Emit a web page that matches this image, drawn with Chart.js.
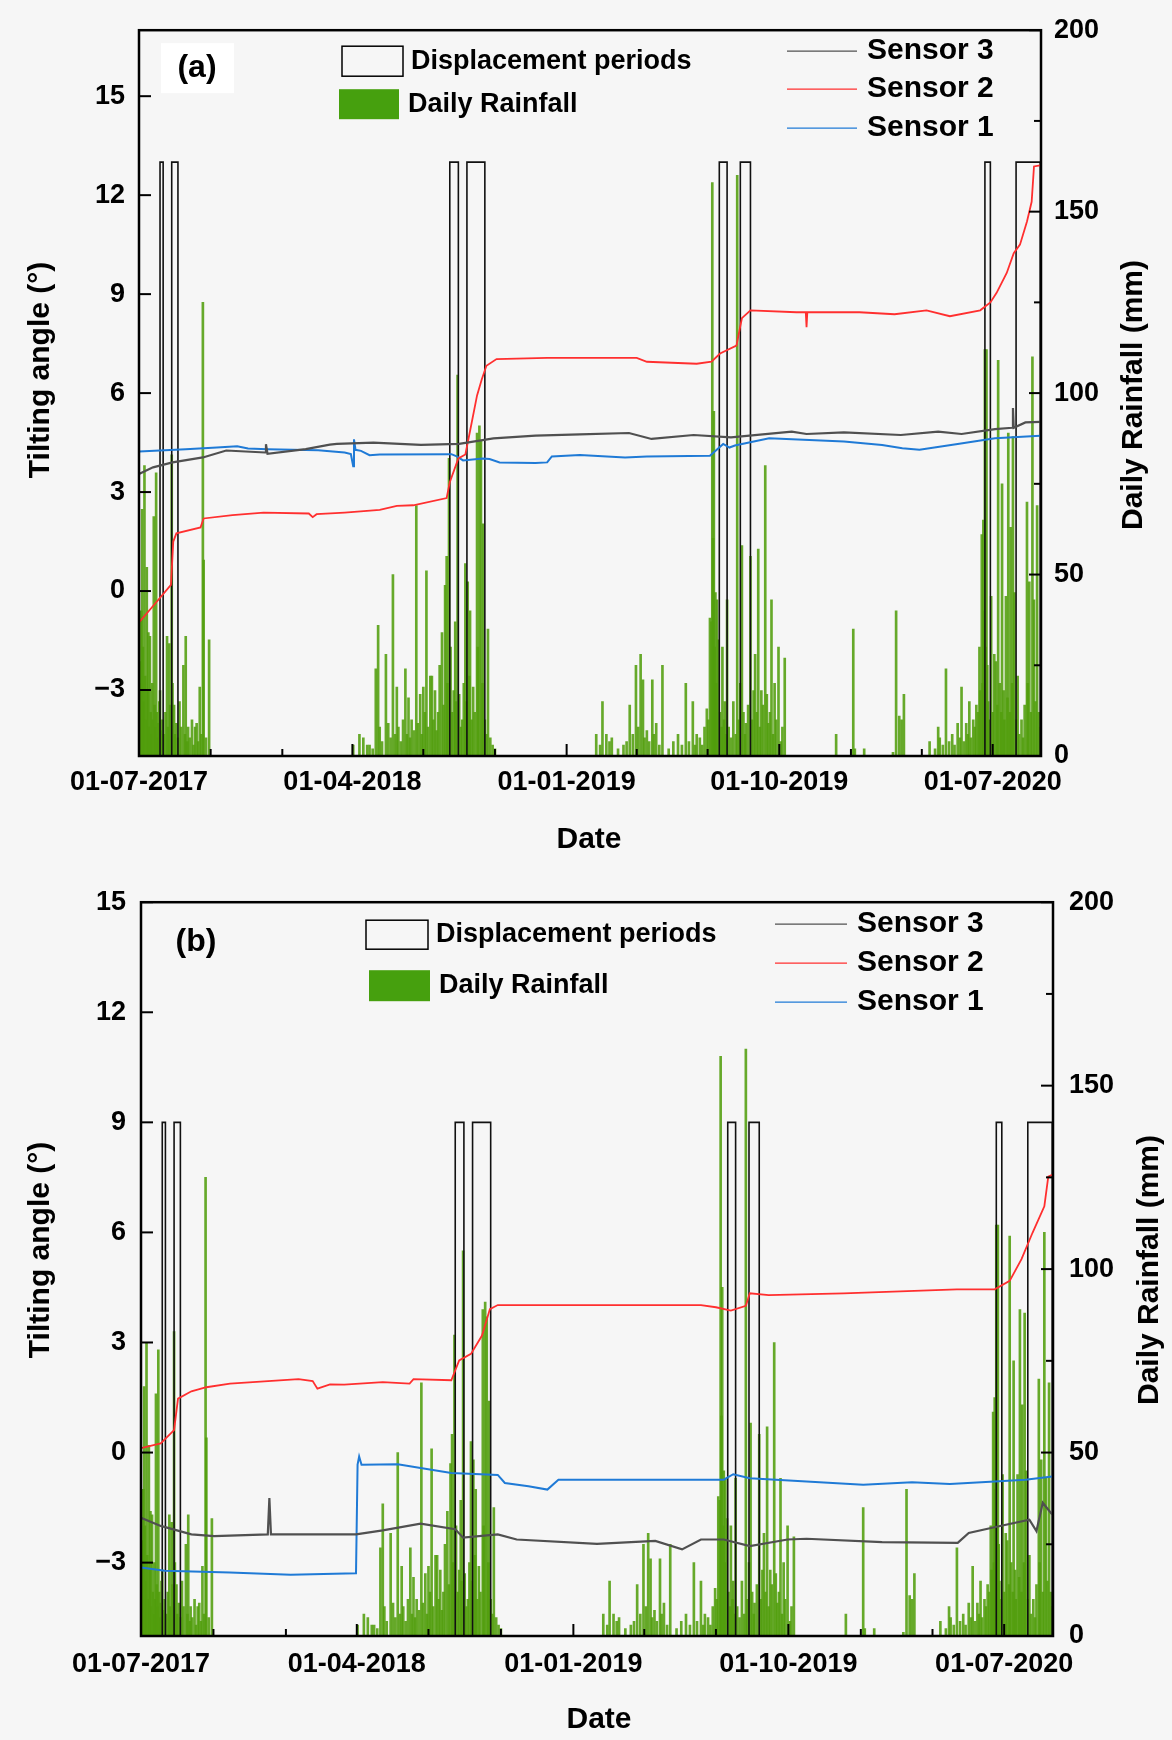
<!DOCTYPE html>
<html>
<head>
<meta charset="utf-8">
<title>Tilting angle and daily rainfall</title>
<script src="https://cdn.jsdelivr.net/npm/chart.js@4.4.1/dist/chart.umd.min.js"></script>
<style>
    html, body { margin: 0; padding: 0; background: #f6f6f6; }
    #wrap { position: relative; width: 1172px; height: 1740px; }
    canvas { position: absolute; left: 0; }
    #chartA { top: 0; }
    #chartB { top: 870px; }
</style>
</head>
<body>
<div id="wrap">
    <canvas id="chartA" width="1172" height="870"></canvas>
    <canvas id="chartB" width="1172" height="870"></canvas>
</div>
<script>
// x values are days counted from 01-07-2017
const xMajorDays = [0, 274, 549, 822, 1096];
const xMajorLabels = ['01-07-2017', '01-04-2018', '01-01-2019', '01-10-2019', '01-07-2020'];
const xMinorDays = [92, 184, 365, 457, 639, 730, 914, 1005];
const tiltTicks = [-3, 0, 3, 6, 9, 12, 15];
const rainTicks = [0, 50, 100, 150, 200];
const rainMinorTicks = [25, 75, 125, 175];

// displacement periods (start / end day)
const periodStart = [27, 42, 399, 421, 745, 772, 1086, 1126];
const periodEnd = [31, 50, 410, 444, 755, 785, 1093, 1157];

// daily rainfall (mm), same record in both panels
const rainDays = [
    0, 1, 2, 3, 4, 5, 6, 7, 8, 9, 10, 11, 12, 13, 14, 15, 16, 17, 18, 19, 20, 21, 22, 23, 24, 25, 26, 27, 28, 30,
    32, 34, 36, 37, 39, 40, 42, 43, 45, 46, 48, 50, 52, 54, 57, 59, 60, 62, 63, 65, 68, 70, 72, 74, 76, 78, 80, 82, 83, 86, 90,
    275, 283, 288, 293, 296, 300, 304, 307, 309, 312, 317, 320, 323, 326, 329, 331, 333, 336, 339, 342, 344, 346, 348, 350,
    353, 356, 358, 361, 363, 365, 367, 369, 371, 374, 376, 378, 380, 382, 384, 386, 389, 391, 393, 395, 396, 398, 400, 402,
    404, 406, 407, 409, 411, 413, 415, 417, 419, 420, 422, 424, 425, 427, 429, 431, 434, 435, 437, 439, 441, 442, 444, 446,
    448, 451, 454, 457,
    587, 592, 595, 600, 604, 607, 615, 622, 626, 630, 634, 638, 641, 644, 647, 649, 652, 655, 659, 661, 664, 668, 672, 680,
    686, 692, 697, 702, 706, 711, 714, 716, 720, 723, 726, 729, 731, 733, 735, 736, 737, 738, 739, 740, 741, 742, 744, 746,
    748, 749, 751, 752, 754, 755, 757, 760, 763, 766, 768, 770, 772, 774, 776, 778, 779, 782, 785, 787, 789, 791, 793, 795,
    797, 799, 801, 804, 806, 808, 810, 812, 814, 816, 818, 821, 824, 826, 829,
    895, 917, 919, 931, 968, 972, 976, 979, 982, 1015, 1022, 1026, 1028, 1032, 1036, 1040, 1044, 1047, 1051, 1054, 1056,
    1059, 1062, 1064, 1066, 1068, 1071, 1073, 1075, 1077, 1079, 1080, 1082, 1083, 1084, 1085, 1086, 1087, 1088, 1089, 1090,
    1092, 1094, 1096, 1098, 1100, 1102, 1103, 1105, 1107, 1108, 1110, 1111, 1113, 1115, 1116, 1118, 1119, 1121, 1122, 1124,
    1126, 1128, 1130, 1133, 1135, 1137, 1140, 1141, 1143, 1145, 1147, 1149, 1151, 1153, 1155, 1157
];
const rainMm = [
    12, 20, 26, 40, 68, 30, 15, 80, 22, 10, 52, 18, 34, 8, 33, 12, 6, 20, 10, 66, 14, 8, 78, 12, 5, 9, 15, 18, 7, 10,
    6, 12, 33, 8, 31, 14, 83, 20, 14, 6, 9, 5, 15, 8, 25, 6, 33, 4, 8, 5, 10, 3, 8, 9, 4, 19, 6, 125, 54, 5, 32,
    3, 6, 5, 3, 3, 2, 24, 36, 8, 4, 28, 9, 5, 50, 6, 19, 8, 4, 10, 24, 6, 16, 5, 10,
    7, 69, 9, 17, 6, 19, 12, 51, 8, 22, 22, 10, 18, 7, 12, 25, 34, 14, 47, 55, 20, 82, 30, 12,
    18, 37, 15, 105, 17, 8, 10, 20, 53, 15, 48, 22, 40, 10, 19, 12, 89, 30, 91, 87, 20, 64, 10, 6,
    35, 5, 3, 2,
    6, 3, 15, 6, 4, 5, 2, 3, 4, 14, 6, 25, 8, 28, 21, 5, 7, 4, 21, 6, 9, 3, 25, 2,
    4, 6, 3, 20, 4, 15, 3, 6, 5, 3, 8, 13, 10, 38, 37, 158, 60, 95, 30, 45, 20, 43, 32, 12,
    8, 30, 10, 15, 6, 43, 8, 5, 15, 6, 160, 10, 20, 58, 12, 6, 9, 14, 55, 10, 18, 28, 12, 57,
    8, 18, 14, 80, 17, 9, 12, 43, 6, 20, 10, 30, 4, 8, 27,
    6, 35, 2, 2, 1, 40, 11, 10, 17, 4, 2, 8, 5, 3, 24, 4, 6, 3, 9, 5, 19,
    4, 9, 6, 15, 5, 10, 8, 14, 12, 30, 18, 61, 20, 65, 40, 112, 30, 112, 25, 15,
    10, 44, 12, 28, 26, 14, 109, 20, 12, 75, 18, 10, 44, 16, 89, 12, 63, 20, 88, 45,
    10, 22, 6, 10, 5, 14, 70, 20, 48, 12, 110, 43, 15, 69, 12, 8
];

// panel (a) tilting angle (deg)
const s3aDays = [0, 18, 43, 82, 112, 162, 163, 165, 214, 245, 254, 301, 362, 411, 455, 509, 566, 629, 658, 712, 760, 838, 857, 905, 978, 1026, 1056, 1099, 1121, 1122, 1123, 1138, 1157];
const s3aVals = [3.55, 3.75, 3.9, 4.05, 4.26, 4.2, 4.45, 4.16, 4.3, 4.44, 4.46, 4.5, 4.43, 4.46, 4.63, 4.71, 4.75, 4.79, 4.61, 4.73, 4.66, 4.83, 4.76, 4.81, 4.73, 4.83, 4.76, 4.91, 4.95, 5.55, 4.95, 5.11, 5.13];
const s2aDays = [0, 20, 41, 44, 48, 79, 83, 120, 160, 218, 223, 228, 264, 309, 331, 352, 395, 399, 410, 419, 425, 434, 440, 446, 459, 524, 639, 652, 716, 735, 746, 767, 774, 785, 844, 856, 857, 858, 925, 970, 1011, 1041, 1080, 1093, 1101, 1114, 1123, 1131, 1140, 1146, 1149, 1157];
const s2aVals = [-0.95, -0.4, 0.19, 1.5, 1.75, 1.93, 2.2, 2.3, 2.38, 2.35, 2.24, 2.33, 2.38, 2.46, 2.58, 2.6, 2.82, 3.3, 4.02, 4.14, 4.85, 5.93, 6.41, 6.83, 7.03, 7.07, 7.07, 6.95, 6.89, 6.95, 7.2, 7.44, 8.27, 8.51, 8.45, 8.45, 8.0, 8.45, 8.45, 8.39, 8.51, 8.33, 8.51, 8.75, 9.04, 9.64, 10.24, 10.5, 11.2, 11.8, 12.87, 12.9];
const s1aDays = [0, 60, 100, 126, 140, 165, 230, 264, 272, 275, 276, 278, 285, 296, 309, 401, 408, 416, 441, 450, 463, 509, 524, 530, 566, 624, 652, 733, 750, 758, 765, 809, 905, 954, 980, 1002, 1051, 1099, 1157];
const s1aVals = [4.23, 4.3, 4.35, 4.39, 4.32, 4.3, 4.27, 4.2, 4.15, 3.78, 4.6, 4.28, 4.25, 4.12, 4.14, 4.15, 4.08, 3.96, 4.02, 4.0, 3.9, 3.88, 3.9, 4.08, 4.12, 4.05, 4.08, 4.1, 4.46, 4.35, 4.41, 4.63, 4.53, 4.43, 4.33, 4.28, 4.46, 4.63, 4.71];

// panel (b) tilting angle (deg)
const s3bDays = [0, 25, 64, 93, 161, 163, 165, 210, 273, 307, 355, 399, 409, 453, 477, 579, 653, 687, 711, 740, 773, 821, 845, 941, 1037, 1051, 1085, 1128, 1137, 1145, 1157];
const s3bVals = [-1.78, -2.0, -2.23, -2.28, -2.23, -1.24, -2.23, -2.23, -2.23, -2.12, -1.94, -2.09, -2.32, -2.23, -2.37, -2.49, -2.41, -2.64, -2.37, -2.37, -2.55, -2.37, -2.35, -2.44, -2.46, -2.19, -2.03, -1.83, -2.14, -1.37, -1.69];
const s2bDays = [0, 25, 42, 47, 64, 83, 113, 200, 218, 224, 240, 258, 307, 341, 346, 394, 404, 419, 433, 443, 453, 557, 711, 730, 749, 768, 773, 797, 892, 1036, 1084, 1103, 1118, 1132, 1147, 1152, 1157];
const s2bVals = [0.12, 0.25, 0.61, 1.47, 1.67, 1.78, 1.88, 2.0, 1.95, 1.74, 1.86, 1.85, 1.92, 1.88, 2.0, 1.97, 2.51, 2.69, 3.19, 3.91, 4.02, 4.02, 4.02, 3.96, 3.87, 4.0, 4.34, 4.29, 4.34, 4.45, 4.45, 4.68, 5.27, 5.99, 6.71, 7.52, 7.57];
const s1bDays = [0, 30, 113, 190, 273, 275, 277, 280, 326, 355, 394, 453, 462, 492, 516, 530, 579, 639, 740, 752, 773, 845, 917, 979, 1027, 1084, 1123, 1157];
const s1bVals = [-3.13, -3.22, -3.27, -3.33, -3.29, -0.33, -0.11, -0.33, -0.32, -0.42, -0.56, -0.61, -0.83, -0.92, -1.01, -0.74, -0.74, -0.74, -0.74, -0.59, -0.7, -0.79, -0.88, -0.81, -0.86, -0.79, -0.74, -0.65];

const FONT = '"Liberation Sans", Arial, sans-serif';
const GRAY = '#505050';
const RED = '#ff2f2f';
const BLUE = '#1f7ad6';
const GREEN = '#46a00e';

function points(days, vals) {
    return days.map((d, i) => ({ x: d, y: vals[i] }));
}

// outline of each displacement period as one broken line
function periodBoxes(top, bottom) {
    const out = [];
    periodStart.forEach((s, i) => {
        const e = periodEnd[i];
        out.push({ x: s, y: bottom }, { x: s, y: top }, { x: e, y: top }, { x: e, y: bottom }, { x: e, y: null });
    });
    return out;
}

// frame, inward ticks, axis titles and legend
const decor = {
    id: 'decor',
    afterDraw(chart, args, o) {
        const { ctx, chartArea: a, scales } = chart;
        const seg = (x1, y1, x2, y2) => {
            ctx.beginPath();
            ctx.moveTo(x1, y1);
            ctx.lineTo(x2, y2);
            ctx.stroke();
        };
        ctx.save();
        ctx.strokeStyle = '#000';
        ctx.lineWidth = 2;
        tiltTicks.forEach(v => { const p = scales.y.getPixelForValue(v); seg(a.left, p, a.left + 12, p); });
        rainTicks.forEach(v => { const p = scales.y2.getPixelForValue(v); seg(a.right, p, a.right - 12, p); });
        rainMinorTicks.forEach(v => { const p = scales.y2.getPixelForValue(v); seg(a.right, p, a.right - 7, p); });
        xMajorDays.forEach(v => { const p = scales.x.getPixelForValue(v); seg(p, a.bottom, p, a.bottom - 12); });
        xMinorDays.forEach(v => { const p = scales.x.getPixelForValue(v); seg(p, a.bottom, p, a.bottom - 7); });
        ctx.lineWidth = 2.5;
        ctx.strokeRect(a.left, a.top, a.right - a.left, a.bottom - a.top);

        // axis titles
        ctx.fillStyle = '#000';
        ctx.textAlign = 'center';
        ctx.textBaseline = 'middle';
        ctx.font = 'bold 30px ' + FONT;
        ctx.fillText('Date', o.dateX, o.dateY);
        [[o.tiltX, o.tiltY, 'Tilting angle (°)'], [o.rainX, o.rainY, 'Daily Rainfall (mm)']].forEach(([x, y, t]) => {
            ctx.save();
            ctx.translate(x, y);
            ctx.rotate(-Math.PI / 2);
            ctx.fillText(t, 0, 0);
            ctx.restore();
        });

        // panel label
        const L = a.left, T = a.top;
        if (o.labelBox) {
            ctx.fillStyle = '#ffffff';
            ctx.fillRect(L + o.labelBox[0], T + o.labelBox[1], o.labelBox[2], o.labelBox[3]);
        }
        ctx.fillStyle = '#000';
        ctx.font = 'bold 32px ' + FONT;
        ctx.fillText(o.label, L + o.labelX, T + o.labelY);

        // legend
        ctx.textAlign = 'left';
        ctx.font = 'bold 27px ' + FONT;
        ctx.lineWidth = 1.5;
        ctx.strokeRect(L + o.dispBox[0], T + o.dispBox[1], o.dispBox[2], o.dispBox[3]);
        ctx.fillText('Displacement periods', L + o.dispText[0], T + o.dispText[1]);
        ctx.fillStyle = GREEN;
        ctx.fillRect(L + o.rainBox[0], T + o.rainBox[1], o.rainBox[2], o.rainBox[3]);
        ctx.fillStyle = '#000';
        ctx.fillText('Daily Rainfall', L + o.rainText[0], T + o.rainText[1]);

        ctx.font = 'bold 30px ' + FONT;
        [['Sensor 3', GRAY], ['Sensor 2', RED], ['Sensor 1', BLUE]].forEach(([name, col], i) => {
            const y = T + o.sensorY[i];
            ctx.strokeStyle = col;
            ctx.lineWidth = 1.2;
            seg(L + o.sensorLine[0], y, L + o.sensorLine[1], y);
            ctx.fillStyle = '#000';
            ctx.fillText(name, L + o.sensorText, y);
        });
        ctx.restore();
    }
};

function makeChart(id, cfg) {
    const tickFont = { family: FONT, size: 27, weight: 'bold' };
    return new Chart(document.getElementById(id), {
        type: 'line',
        data: {
            datasets: [
                {
                    type: 'bar',
                    label: 'Daily Rainfall',
                    data: points(rainDays, rainMm),
                    yAxisID: 'y2',
                    backgroundColor: 'rgba(82,158,14,0.88)',
                    barThickness: 2,
                    order: 5,
                },
                {
                    label: 'Displacement periods',
                    data: periodBoxes(cfg.boxTop, cfg.tiltMin),
                    yAxisID: 'y',
                    borderColor: '#111',
                    borderWidth: 1.6,
                    pointRadius: 0,
                    spanGaps: false,
                    order: 4,
                },
                {
                    label: 'Sensor 1',
                    data: points(cfg.s1Days, cfg.s1Vals),
                    yAxisID: 'y',
                    borderColor: BLUE,
                    borderWidth: 2,
                    pointRadius: 0,
                    order: 3,
                },
                {
                    label: 'Sensor 2',
                    data: points(cfg.s2Days, cfg.s2Vals),
                    yAxisID: 'y',
                    borderColor: RED,
                    borderWidth: 1.8,
                    pointRadius: 0,
                    order: 2,
                },
                {
                    label: 'Sensor 3',
                    data: points(cfg.s3Days, cfg.s3Vals),
                    yAxisID: 'y',
                    borderColor: GRAY,
                    borderWidth: 2.2,
                    pointRadius: 0,
                    order: 1,
                },
            ],
        },
        options: {
            responsive: false,
            animation: false,
            layout: { padding: { top: cfg.padTop, left: 0, right: 0, bottom: 0 } },
            plugins: {
                legend: { display: false },
                tooltip: { enabled: false },
                decor: cfg.decor,
            },
            scales: {
                x: {
                    type: 'linear',
                    min: 0,
                    max: 1158,
                    offset: false,
                    afterBuildTicks: s => { s.ticks = xMajorDays.map(v => ({ value: v })); },
                    afterFit: s => { s.height = cfg.xHeight; },
                    ticks: {
                        autoSkip: false,
                        maxRotation: 0,
                        padding: cfg.xPad,
                        color: '#000',
                        font: tickFont,
                        callback: v => xMajorLabels[xMajorDays.indexOf(v)],
                    },
                    grid: { display: false, drawTicks: false },
                    border: { display: false },
                },
                y: {
                    position: 'left',
                    min: cfg.tiltMin,
                    max: cfg.tiltMax,
                    afterBuildTicks: s => { s.ticks = tiltTicks.map(v => ({ value: v })); },
                    afterFit: s => { s.width = cfg.yWidth; },
                    ticks: {
                        padding: cfg.yPad,
                        color: '#000',
                        font: tickFont,
                        callback: v => (v < 0 ? '\u2212' + Math.abs(v) : String(v)),
                    },
                    grid: { display: false, drawTicks: false },
                    border: { display: false },
                },
                y2: {
                    position: 'right',
                    min: 0,
                    max: 200,
                    afterBuildTicks: s => { s.ticks = rainTicks.map(v => ({ value: v })); },
                    afterFit: s => { s.width = cfg.y2Width; },
                    ticks: { padding: cfg.y2Pad, color: '#000', font: tickFont },
                    grid: { display: false, drawTicks: false },
                    border: { display: false },
                },
            },
        },
        plugins: [decor],
    });
}

makeChart('chartA', {
    padTop: 30, xHeight: 114, yWidth: 139, y2Width: 131, xPad: 10, yPad: 14, y2Pad: 13,
    tiltMin: -5, tiltMax: 17, boxTop: 13,
    s1Days: s1aDays, s1Vals: s1aVals, s2Days: s2aDays, s2Vals: s2aVals, s3Days: s3aDays, s3Vals: s3aVals,
    decor: {
        dateX: 589, dateY: 840, tiltX: 41, tiltY: 370, rainX: 1134, rainY: 395,
        label: '(a)', labelBox: [22, 13, 73, 50], labelX: 58, labelY: 38,
        dispBox: [203, 16, 61, 30], dispText: [272, 31],
        rainBox: [200, 59, 60, 30], rainText: [269, 74],
        sensorLine: [648, 718], sensorText: 728, sensorY: [21, 59, 98],
    },
});

makeChart('chartB', {
    padTop: 28, xHeight: 104, yWidth: 141, y2Width: 119, xPad: 12, yPad: 15, y2Pad: 16,
    tiltMin: -5, tiltMax: 15, boxTop: 9,
    s1Days: s1bDays, s1Vals: s1bVals, s2Days: s2bDays, s2Vals: s2bVals, s3Days: s3bDays, s3Vals: s3bVals,
    decor: {
        dateX: 599, dateY: 850, tiltX: 41, tiltY: 380, rainX: 1150, rainY: 400,
        label: '(b)', labelBox: null, labelX: 55, labelY: 40,
        dispBox: [225, 18, 62, 29], dispText: [295, 32],
        rainBox: [228, 68, 61, 31], rainText: [298, 83],
        sensorLine: [634, 706], sensorText: 716, sensorY: [22, 61, 100],
    },
});
</script>
</body>
</html>
